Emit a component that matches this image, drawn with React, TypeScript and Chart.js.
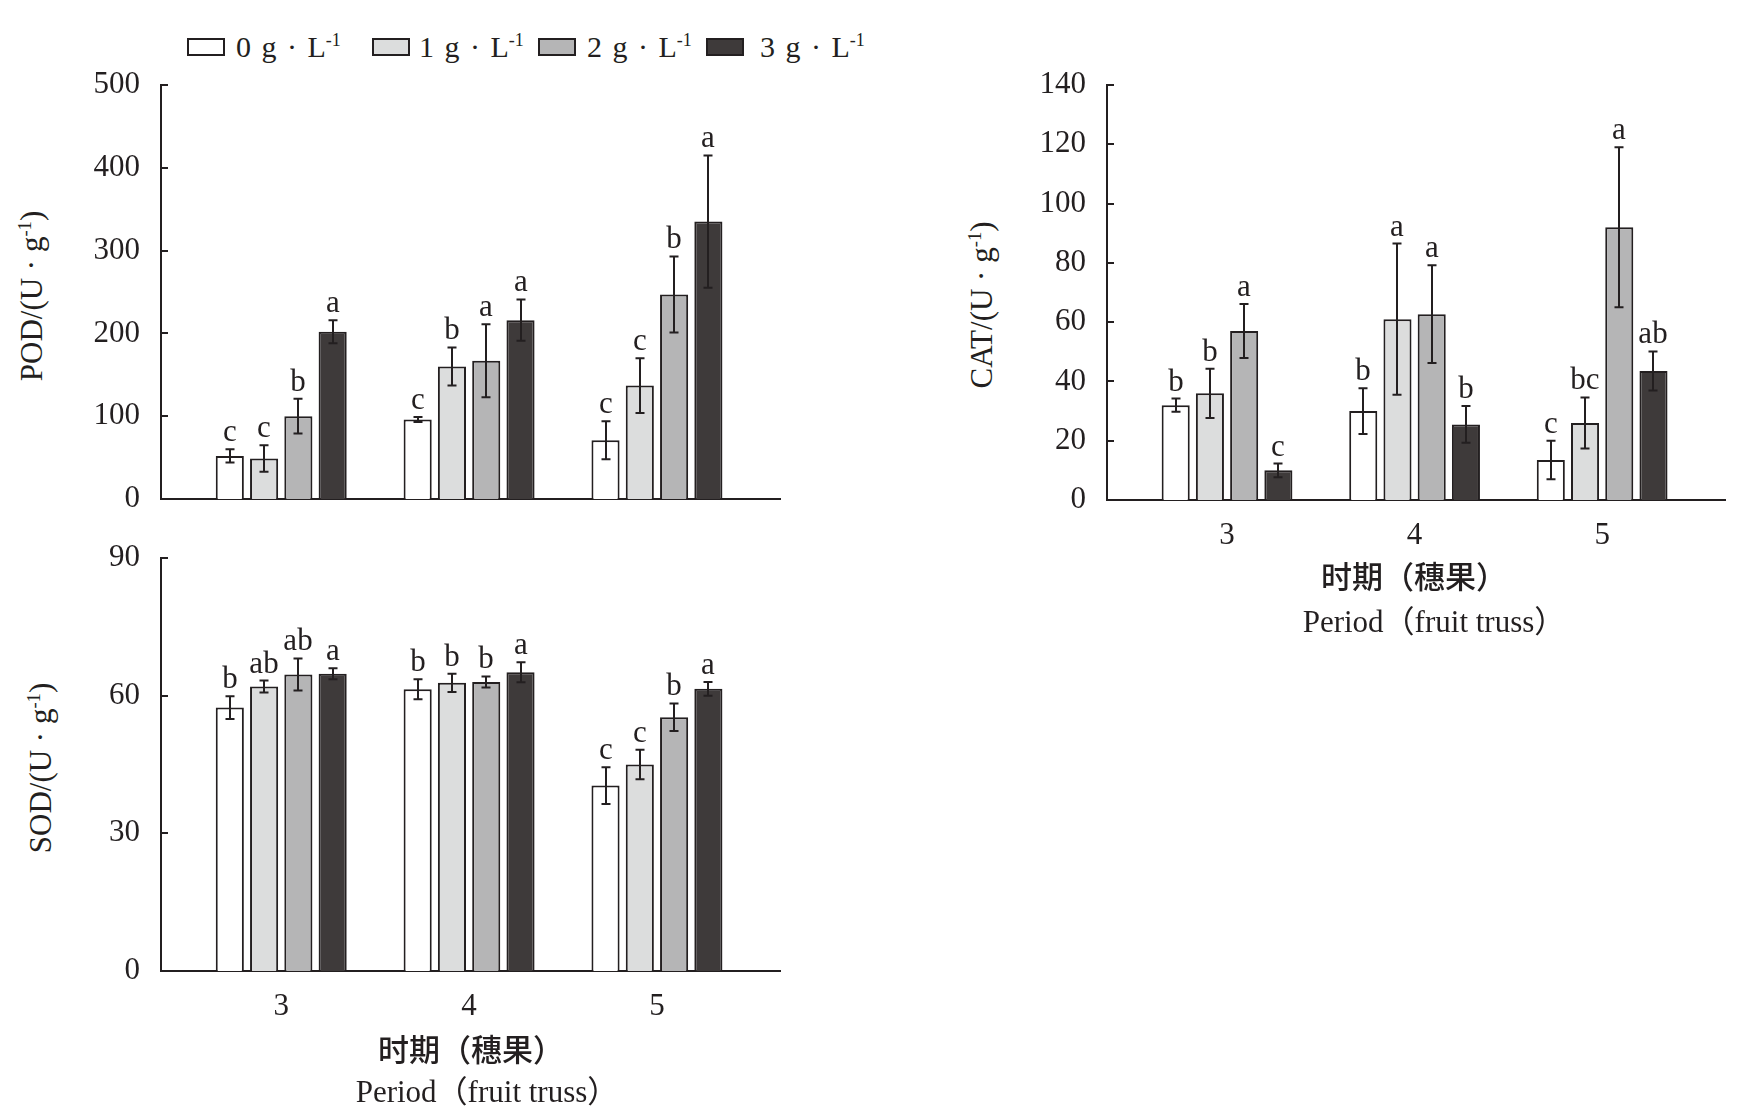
import { useEffect, useRef } from 'react';
import { Chart, registerables } from 'chart.js';

Chart.register(...registerables);

const INK = '#231f20';
const SERIF = '"Liberation Serif", "Times New Roman", serif';
const CJK = '"Noto Sans CJK SC", sans-serif';

// periods (fruit truss) and treatment doses (g·L-1)
const periods = [3, 4, 5];
const doses = ['0', '1', '2', '3'];
const barColors = ['#ffffff', '#dcdddd', '#b5b5b6', '#3e3a3a'];

// POD (U·g-1), one array per dose
const pod0 = [52, 96, 71];
const pod1 = [49, 160, 137];
const pod2 = [100, 167, 247];
const pod3 = [202, 216, 335];
const podErr0 = [8, 3, 23];
const podErr1 = [16, 23, 33];
const podErr2 = [21, 44, 46];
const podErr3 = [14, 25, 80];
const podSig0 = ['c', 'c', 'c'];
const podSig1 = ['c', 'b', 'c'];
const podSig2 = ['b', 'a', 'b'];
const podSig3 = ['a', 'a', 'a'];

// CAT (U·g-1)
const cat0 = [32, 30, 13.5];
const cat1 = [36, 61, 26];
const cat2 = [57, 62.7, 92];
const cat3 = [10, 25.5, 43.5];
const catErr0 = [2.2, 7.7, 6.5];
const catErr1 = [8.3, 25.5, 8.6];
const catErr2 = [9.1, 16.5, 27];
const catErr3 = [2.3, 6.2, 6.6];
const catSig0 = ['b', 'b', 'c'];
const catSig1 = ['b', 'a', 'bc'];
const catSig2 = ['a', 'a', 'a'];
const catSig3 = ['c', 'b', 'ab'];

// SOD (U·g-1)
const sod0 = [57.4, 61.4, 40.4];
const sod1 = [62, 62.8, 45];
const sod2 = [64.6, 63, 55.3];
const sod3 = [64.8, 65.1, 61.5];
const sodErr0 = [2.5, 2.2, 4];
const sodErr1 = [1.3, 2, 3.2];
const sodErr2 = [3.5, 1.2, 3];
const sodErr3 = [1.2, 2.2, 1.5];
const sodSig0 = ['b', 'b', 'c'];
const sodSig1 = ['ab', 'b', 'c'];
const sodSig2 = ['ab', 'b', 'b'];
const sodSig3 = ['a', 'a', 'a'];

const AXIS_W = 100;
const PAD_T = 50;
const PAD_R = 20;
const X_H = 60;
const PAD_B = 10;

type PanelProps = {
  left: number;
  top: number;
  right: number;
  bottom: number;
  yMax: number;
  yStep: number;
  values: number[][];
  errors: number[][];
  letters: string[][];
  showX: boolean;
};

const Sup = ({ children }: { children: string }) => (
  <span style={{ fontSize: '0.6em', position: 'relative', top: '-0.6em' }}>{children}</span>
);

const BarPanel = (p: PanelProps) => {
  const chartRef = useRef<HTMLCanvasElement>(null);
  const chartInstance = useRef<Chart | null>(null);
  const width = AXIS_W + (p.right - p.left) + PAD_R;
  const height = PAD_T + (p.bottom - p.top) + X_H + PAD_B;

  useEffect(() => {
    if (!chartRef.current) return;

    // error bars + significance letters, placed with the y scale
    const errorBars = {
      id: 'errorBars',
      afterDatasetsDraw(chart: any) {
        const { ctx } = chart;
        const y = chart.scales.y;
        ctx.save();
        ctx.strokeStyle = INK;
        ctx.fillStyle = INK;
        ctx.lineWidth = 2;
        ctx.font = `31px ${SERIF}`;
        ctx.textAlign = 'center';
        ctx.textBaseline = 'alphabetic';
        p.values.forEach((vals, di) => {
          const meta = chart.getDatasetMeta(di);
          meta.data.forEach((bar: any, i: number) => {
            const v = vals[i];
            const e = p.errors[di][i];
            const x = Math.round(bar.x);
            const yt = y.getPixelForValue(v + e);
            const yb = y.getPixelForValue(v - e);
            ctx.beginPath();
            ctx.moveTo(x, yt);
            ctx.lineTo(x, yb);
            ctx.moveTo(x - 4.5, yt);
            ctx.lineTo(x + 4.5, yt);
            ctx.moveTo(x - 4.5, yb);
            ctx.lineTo(x + 4.5, yb);
            ctx.stroke();
            ctx.fillText(p.letters[di][i], x, yt - 8);
          });
        });
        ctx.restore();
      },
    };

    // short tick marks pointing into the plot
    const innerTicks = {
      id: 'innerTicks',
      afterDraw(chart: any) {
        const { ctx, chartArea } = chart;
        const y = chart.scales.y;
        ctx.save();
        ctx.strokeStyle = INK;
        ctx.lineWidth = 2;
        y.ticks.forEach((_: any, i: number) => {
          const py = Math.round(y.getPixelForTick(i));
          ctx.beginPath();
          ctx.moveTo(chartArea.left, py);
          ctx.lineTo(chartArea.left + 7, py);
          ctx.stroke();
        });
        ctx.restore();
      },
    };

    if (chartInstance.current) chartInstance.current.destroy();

    chartInstance.current = new Chart(chartRef.current, {
      type: 'bar',
      data: {
        datasets: p.values.map((vals, di) => ({
          label: `${doses[di]} g·L-1`,
          data: vals.map((v, i) => ({ x: periods[i], y: v })),
          backgroundColor: barColors[di],
          borderColor: INK,
          borderWidth: 2,
          barPercentage: 0.82,
          categoryPercentage: 0.73,
        })),
      },
      options: {
        animation: false,
        responsive: false,
        events: [],
        layout: { padding: { left: 0, top: PAD_T, right: PAD_R, bottom: PAD_B } },
        plugins: {
          legend: { display: false },
          tooltip: { enabled: false },
        },
        scales: {
          x: {
            type: 'linear',
            min: 2.36,
            max: 5.655,
            offset: false,
            afterBuildTicks: (s: any) => {
              s.ticks = periods.map((v) => ({ value: v }));
            },
            afterFit: (s: any) => {
              s.height = X_H;
            },
            grid: { display: false, drawTicks: false },
            border: { display: true, color: INK, width: 2 },
            ticks: {
              display: p.showX,
              color: INK,
              padding: 17,
              font: { family: SERIF, size: 31 },
              callback: (v: any) => String(v),
            },
          },
          y: {
            min: 0,
            max: p.yMax,
            afterFit: (s: any) => {
              s.width = AXIS_W;
            },
            grid: { display: false, drawTicks: false },
            border: { display: true, color: INK, width: 2 },
            ticks: {
              stepSize: p.yStep,
              color: INK,
              padding: 21,
              font: { family: SERIF, size: 31 },
            },
          },
        },
      } as any,
      plugins: [errorBars, innerTicks],
    });

    return () => {
      if (chartInstance.current) {
        chartInstance.current.destroy();
        chartInstance.current = null;
      }
    };
  }, []);

  return (
    <canvas
      ref={chartRef}
      width={width}
      height={height}
      style={{ position: 'absolute', left: p.left - AXIS_W, top: p.top - PAD_T, width, height }}
    />
  );
};

const YTitle = ({ x, y, name }: { x: number; y: number; name: string }) => (
  <div
    style={{
      position: 'absolute',
      left: x,
      top: y,
      transform: 'translate(-50%, -50%) rotate(-90deg)',
      whiteSpace: 'nowrap',
      fontFamily: SERIF,
      fontSize: 31,
      lineHeight: '31px',
    }}
  >
    {name}/(U · g<Sup>-1</Sup>)
  </div>
);

const XTitle = ({ cjkX, cjkTop, enX, enTop }: { cjkX: number; cjkTop: number; enX: number; enTop: number }) => (
  <>
    <div
      style={{
        position: 'absolute',
        left: cjkX,
        top: cjkTop,
        transform: 'translateX(-50%)',
        whiteSpace: 'nowrap',
        fontFamily: CJK,
        fontSize: 31,
        lineHeight: '31px',
        fontWeight: 500,
      }}
    >
      时期（穗果）
    </div>
    <div
      style={{
        position: 'absolute',
        left: enX,
        top: enTop,
        transform: 'translateX(-50%)',
        whiteSpace: 'nowrap',
        fontFamily: `"Liberation Serif", ${CJK}`,
        fontSize: 31,
        lineHeight: '31px',
      }}
    >
      Period（fruit truss）
    </div>
  </>
);

export default function App() {
  const legendBoxX = [187, 372, 538, 706];
  const legendTextX = [236, 419, 587, 760];

  return (
    <div
      style={{
        position: 'absolute',
        left: 0,
        top: 0,
        width: 1744,
        height: 1114,
        background: '#ffffff',
        color: INK,
        fontFamily: SERIF,
        overflow: 'hidden',
      }}
    >
      {doses.map((d, i) => (
        <div key={d}>
          <div
            style={{
              position: 'absolute',
              left: legendBoxX[i],
              top: 38,
              width: 38,
              height: 18,
              boxSizing: 'border-box',
              border: `2px solid ${INK}`,
              background: barColors[i],
            }}
          />
          <div
            style={{
              position: 'absolute',
              left: legendTextX[i],
              top: 32,
              fontSize: 30,
              lineHeight: '30px',
              whiteSpace: 'nowrap',
              wordSpacing: 3,
            }}
          >
            {d} g · L<Sup>-1</Sup>
          </div>
        </div>
      ))}

      <BarPanel
        left={161}
        top={85}
        right={780}
        bottom={499}
        yMax={500}
        yStep={100}
        values={[pod0, pod1, pod2, pod3]}
        errors={[podErr0, podErr1, podErr2, podErr3]}
        letters={[podSig0, podSig1, podSig2, podSig3]}
        showX={false}
      />
      <BarPanel
        left={161}
        top={558}
        right={780}
        bottom={971}
        yMax={90}
        yStep={30}
        values={[sod0, sod1, sod2, sod3]}
        errors={[sodErr0, sodErr1, sodErr2, sodErr3]}
        letters={[sodSig0, sodSig1, sodSig2, sodSig3]}
        showX={true}
      />
      <BarPanel
        left={1107}
        top={85}
        right={1725}
        bottom={500}
        yMax={140}
        yStep={20}
        values={[cat0, cat1, cat2, cat3]}
        errors={[catErr0, catErr1, catErr2, catErr3]}
        letters={[catSig0, catSig1, catSig2, catSig3]}
        showX={true}
      />

      <YTitle x={33} y={296} name="POD" />
      <YTitle x={42} y={768} name="SOD" />
      <YTitle x={983} y={305} name="CAT" />

      <XTitle cjkX={471} cjkTop={1032} enX={487} enTop={1076} />
      <XTitle cjkX={1414} cjkTop={559} enX={1434} enTop={606} />
    </div>
  );
}
